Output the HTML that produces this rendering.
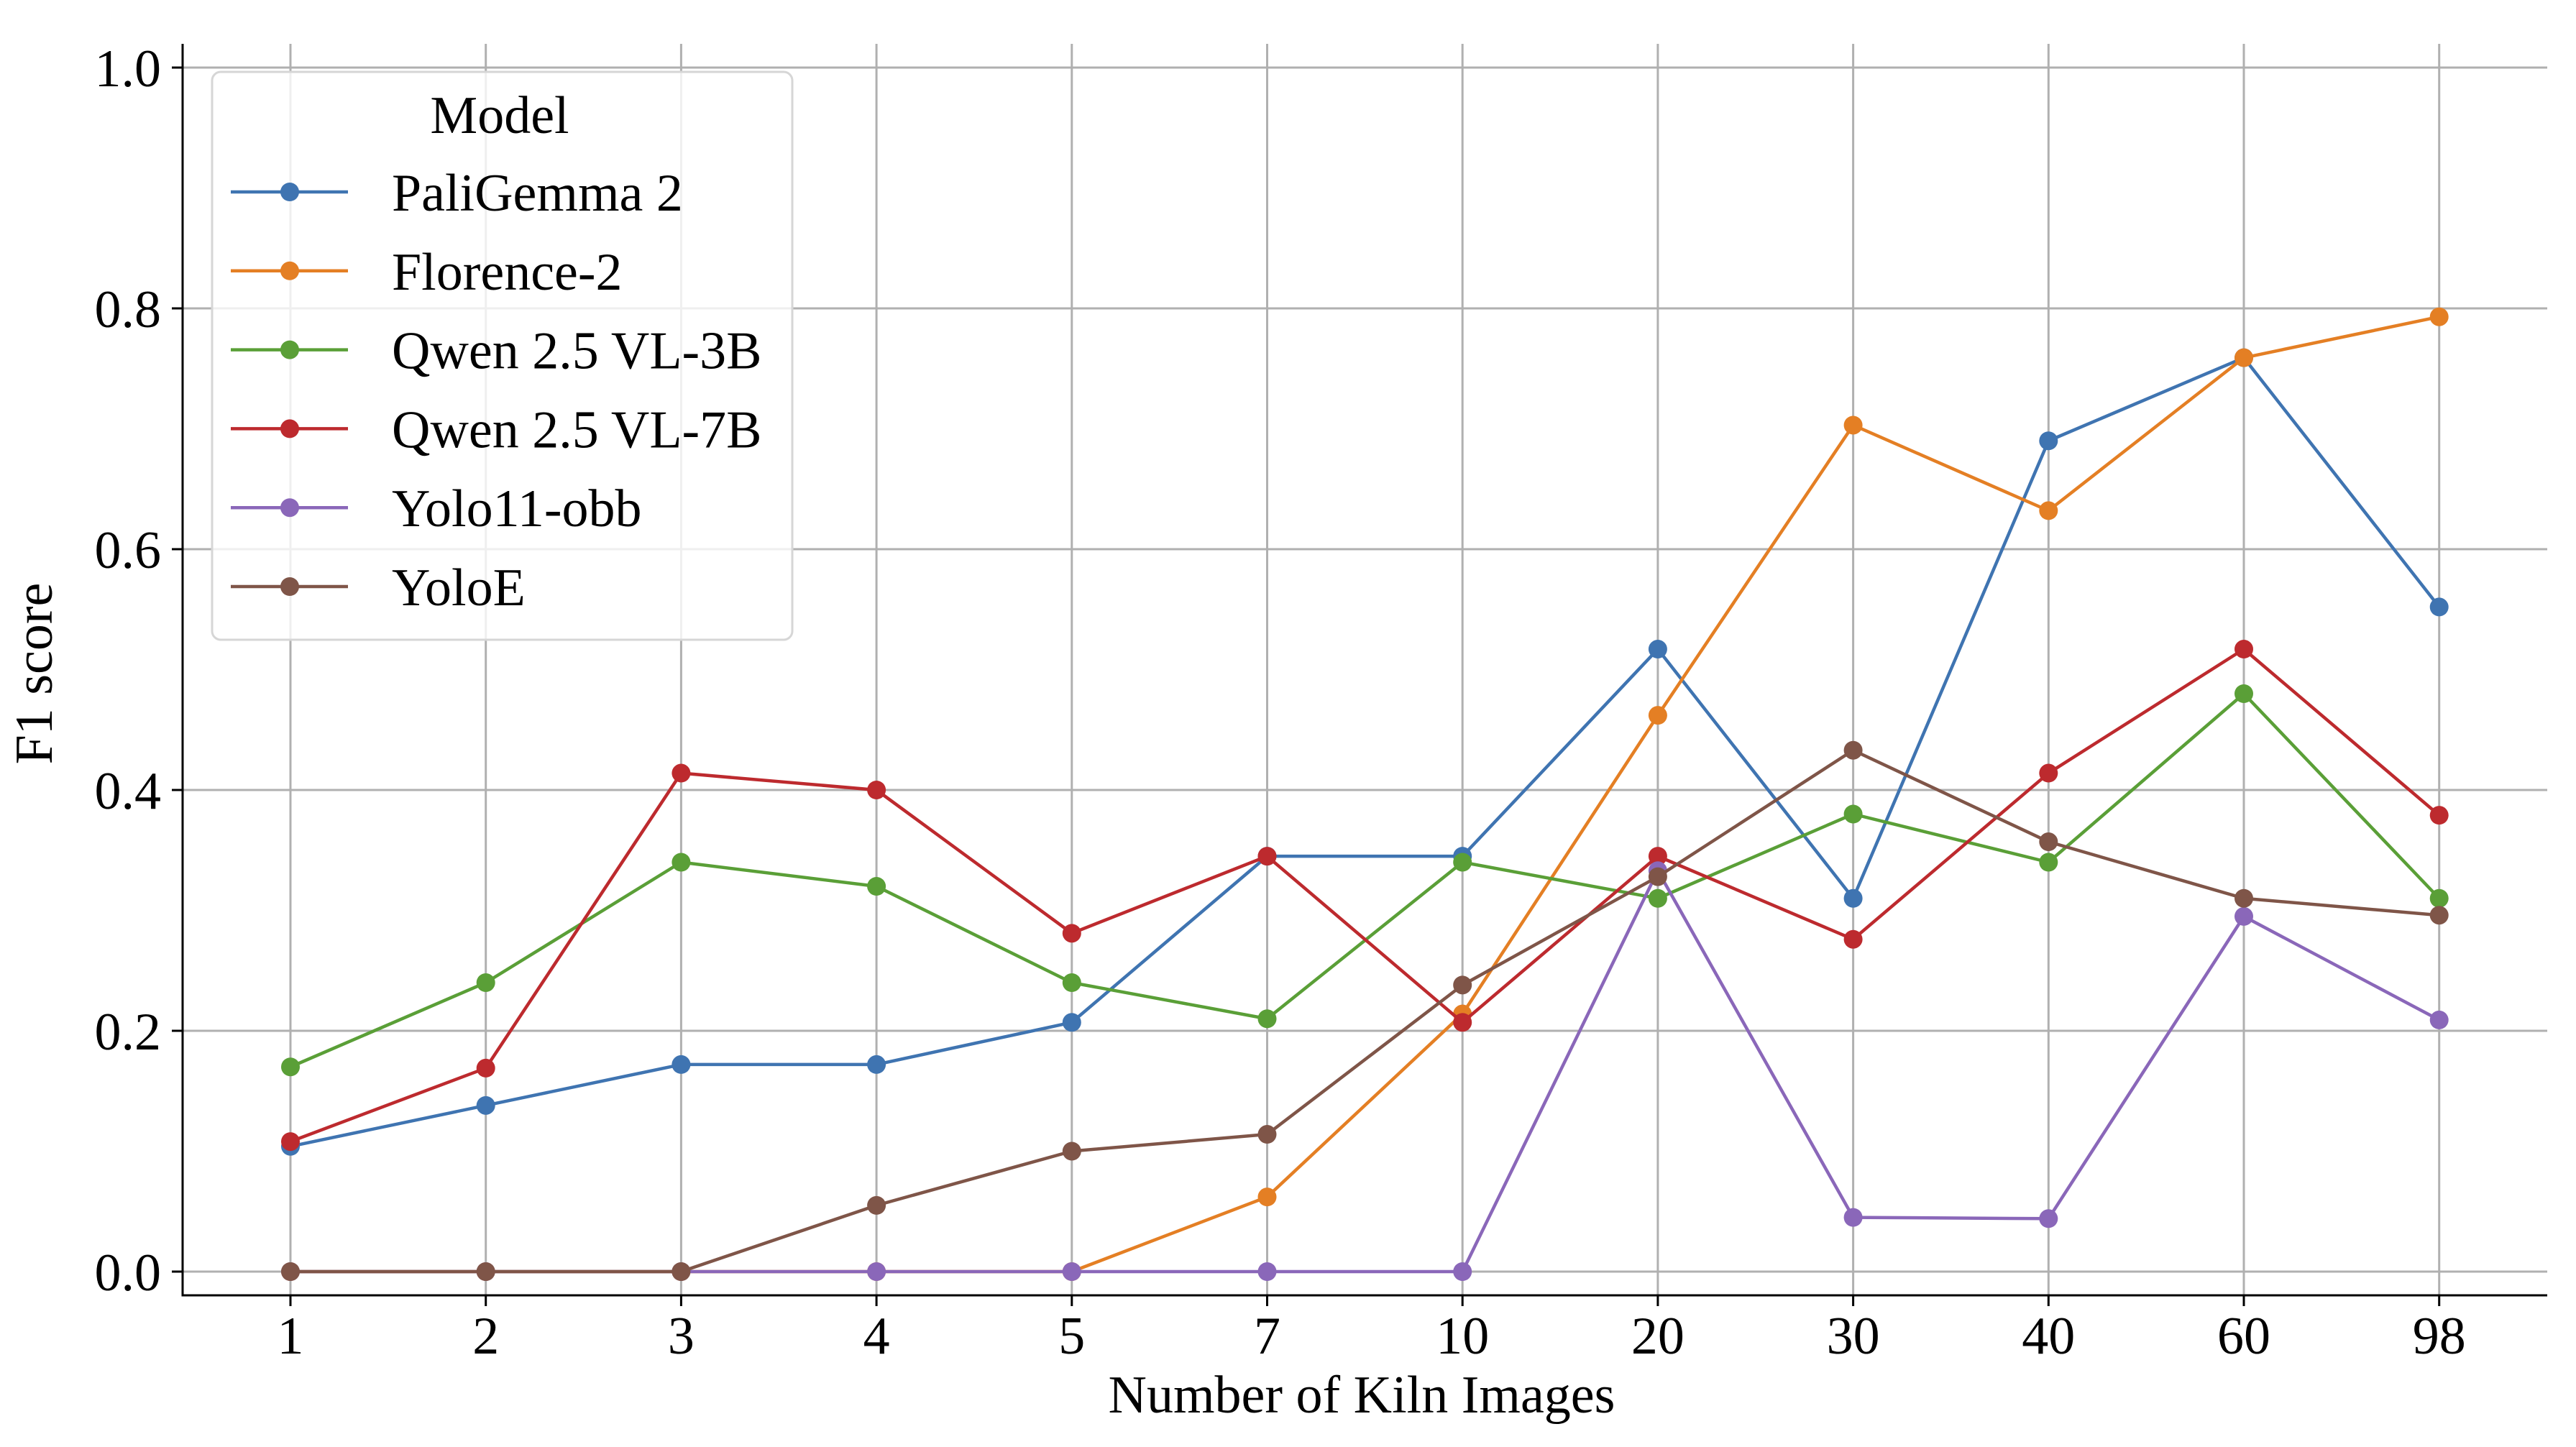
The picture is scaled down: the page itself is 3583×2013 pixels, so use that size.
<!DOCTYPE html>
<html><head><meta charset="utf-8"><style>
html,body{margin:0;padding:0;background:#fff;}
svg{display:block;font-family:"Liberation Serif",serif;}
</style></head><body>
<svg id="chart" width="3583" height="2013" viewBox="0 0 3583 2013" xmlns="http://www.w3.org/2000/svg">
<g id="grid"></g>
<g id="axes"></g>
<g id="series"></g>
<g id="legend"></g>
</svg>
<script>
const categories = ["1","2","3","4","5","7","10","20","30","40","60","98"];
const yTicks = [0.0,0.2,0.4,0.6,0.8,1.0];
const yTickLabels = ["0.0","0.2","0.4","0.6","0.8","1.0"];
const seriesNames = ["PaliGemma 2","Florence-2","Qwen 2.5 VL-3B","Qwen 2.5 VL-7B","Yolo11-obb","YoloE"];
const paligemma = [0.104,0.138,0.172,0.172,0.207,0.345,0.345,0.517,0.310,0.690,0.759,0.552];
const florence = [0,0,0,0,0,0.062,0.214,0.462,0.703,0.632,0.759,0.793];
const qwen3b = [0.170,0.240,0.340,0.320,0.240,0.210,0.340,0.310,0.380,0.340,0.480,0.310];
const qwen7b = [0.108,0.169,0.414,0.400,0.281,0.345,0.207,0.345,0.276,0.414,0.517,0.379];
const yolo11 = [0,0,0,0,0,0,0,0.333,0.045,0.044,0.295,0.209];
const yoloe = [0,0,0,0.055,0.100,0.114,0.238,0.328,0.433,0.357,0.310,0.296];

const NS="http://www.w3.org/2000/svg";
const colors=["#3f74b1","#e47f24","#5a9f37","#bd2a2e","#8a67b9","#7f5548"];
const allSeries=[paligemma,florence,qwen3b,qwen7b,yolo11,yoloe];
const L=254,R=3543,T=61,B=1802;
function x(i){return 404+i*271.7;}
function y(v){return 1769-v*1675;}
function mk(tag,attrs,parent){const e=document.createElementNS(NS,tag);for(const k in attrs)e.setAttribute(k,attrs[k]);parent.appendChild(e);return e;}
const grid=document.getElementById('grid'),axes=document.getElementById('axes'),ser=document.getElementById('series'),leg=document.getElementById('legend');

categories.forEach((c,i)=>{
  const g=mk('line',{x1:x(i),x2:x(i),y1:T,y2:B,stroke:'#b0b0b0','stroke-width':3},grid);
  
  
  const t=mk('line',{x1:x(i),x2:x(i),y1:B,y2:B+15,stroke:'#000','stroke-width':3},axes);
  
  
  const lb=mk('text',{x:x(i),y:1883,'font-size':74,'text-anchor':'middle',fill:'#000'},axes);
  lb.textContent=c;
  
  
});
yTicks.forEach((v,i)=>{
  const g=mk('line',{x1:L,x2:R,y1:y(v),y2:y(v),stroke:'#b0b0b0','stroke-width':3},grid);
  
  
  const t=mk('line',{x1:L-15,x2:L,y1:y(v),y2:y(v),stroke:'#000','stroke-width':3},axes);
  
  
  const lb=mk('text',{x:224,y:y(v)+26,'font-size':74,'text-anchor':'end',fill:'#000'},axes);
  lb.textContent=yTickLabels[i];
  
  
});
const ls=mk('line',{x1:L,x2:L,y1:T,y2:B+1.5,stroke:'#000','stroke-width':3},axes);


const bs=mk('line',{x1:L-1.5,x2:R,y1:B,y2:B,stroke:'#000','stroke-width':3},axes);


const xt=mk('text',{x:1894,y:1965,'font-size':74,'text-anchor':'middle',fill:'#000'},axes);
xt.textContent='Number of Kiln Images';


const yt=mk('text',{x:0,y:0,'font-size':74,'text-anchor':'middle',fill:'#000',transform:'translate(72,937) rotate(-90)'},axes);
yt.textContent='F1 score';



allSeries.forEach((vals,s)=>{
  const g=mk('g',{},ser);
  
  
  const pl=mk('polyline',{points:vals.map((v,i)=>x(i)+','+y(v)).join(' '),fill:'none',stroke:colors[s],'stroke-width':4.5,'stroke-linejoin':'round'},g);
  
  
  vals.forEach((v,i)=>{
    const c=mk('circle',{cx:x(i),cy:y(v),r:13,fill:colors[s]},g);
    
    
  });
});

const box=mk('rect',{x:295,y:100,width:807,height:790,rx:12,fill:'#fff','fill-opacity':0.8,stroke:'#d6d6d6','stroke-width':3},leg);


const lt=mk('text',{x:695,y:185,'font-size':74,'text-anchor':'middle',fill:'#000'},leg);
lt.textContent='Model';


seriesNames.forEach((n,s)=>{
  const yy=267+s*109.8;
  const g=mk('g',{},leg);
  
  
  mk('line',{x1:321,x2:484,y1:yy,y2:yy,stroke:colors[s],'stroke-width':4.5},g);
  mk('circle',{cx:403,cy:yy,r:13,fill:colors[s]},g);
  const t=mk('text',{x:545,y:yy+26,'font-size':74,fill:'#000'},g);
  t.textContent=n;
  
  
});
</script>
</body></html>
